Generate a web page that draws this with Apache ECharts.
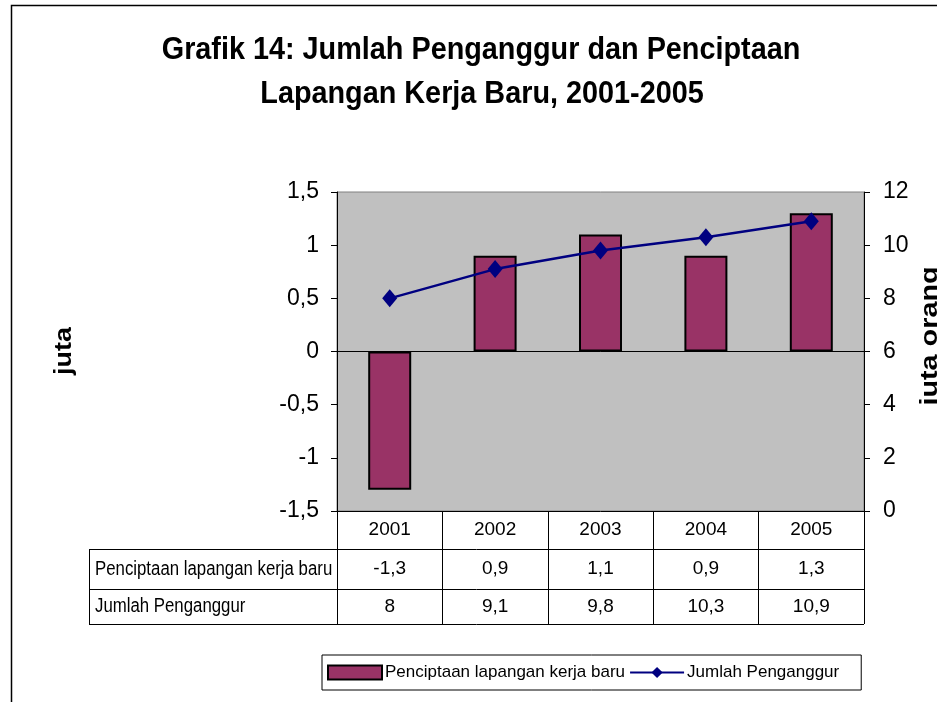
<!DOCTYPE html>
<html>
<head>
<meta charset="utf-8">
<script src="https://cdn.jsdelivr.net/npm/echarts@6/dist/echarts.min.js"></script>
<style>html,body{margin:0;padding:0;background:#fff}#c{width:937px;height:702px}</style>
</head>
<body>
<div id="c"></div>
<script>
var years = ['2001', '2002', '2003', '2004', '2005'];
var jobCreation = [-1.3, 0.9, 1.1, 0.9, 1.3];
var unemployed = [8, 9.1, 9.8, 10.3, 10.9];
var jobName = 'Penciptaan lapangan kerja baru';
var unempName = 'Jumlah Penganggur';
var titleLines = ['Grafik 14: Jumlah Penganggur dan Penciptaan', 'Lapangan Kerja Baru, 2001-2005'];
var leftAxisName = 'juta';
var rightAxisName = 'juta orang';

function fmt(v) { return String(v).replace('.', ','); }

var SANS = "'Liberation Sans', Arial, sans-serif";

var chart = echarts.init(document.getElementById('c'));
var TL = 89, PL = 337, PR = 864, PB = 511, R1 = 549, R2 = 589, TB = 624;

chart.setOption({
  animation: false,
  backgroundColor: '#fff',
  grid: { left: PL, right: 937 - PR, top: 192, bottom: 702 - PB, show: true, backgroundColor: '#C0C0C0', borderColor: '#808080', borderWidth: 1 },
  legend: {
    left: 322, top: 655, orient: 'horizontal',
    borderColor: '#000', borderWidth: 1, padding: [9, 22, 9, 5],
    itemWidth: 54, itemHeight: 14, itemGap: 4,
    textStyle: { fontFamily: SANS, fontSize: 17, color: '#000', padding: [0, 0, 0, -2] },
    data: [{ name: jobName, icon: 'rect' }, { name: unempName }]
  },
  xAxis: {
    type: 'category', data: years, position: 'bottom',
    axisLine: { onZero: false, lineStyle: { color: '#000', width: 1 } },
    axisTick: { show: true, length: TB - PB, lineStyle: { color: '#000', width: 1 } },
    axisLabel: {
      margin: 0, interval: 0,
      formatter: function (v, i) {
        return '{y|' + v + '}\n{a|' + fmt(jobCreation[i]) + '}\n{b|' + fmt(unemployed[i]) + '}';
      },
      rich: {
        y: { fontFamily: SANS, fontSize: 19, color: '#000', lineHeight: R1 - PB },
        a: { fontFamily: SANS, fontSize: 19, color: '#000', lineHeight: R2 - R1 },
        b: { fontFamily: SANS, fontSize: 19, color: '#000', lineHeight: TB - R2 }
      }
    },
    splitLine: { show: false }
  },
  yAxis: [
    {
      type: 'value', min: -1.5, max: 1.5, interval: 0.5,
      axisLine: { show: true, lineStyle: { color: '#000' } },
      axisTick: { show: true, length: 6, lineStyle: { color: '#000' } },
      axisLabel: { margin: 18, fontFamily: SANS, fontSize: 23, color: '#000', formatter: fmt },
      splitLine: { show: false }
    },
    {
      type: 'value', min: 0, max: 12, interval: 2, position: 'right',
      axisLine: { show: true, lineStyle: { color: '#000' } },
      axisTick: { show: true, length: 6, lineStyle: { color: '#000' } },
      axisLabel: { margin: 19, fontFamily: SANS, fontSize: 23, color: '#000', formatter: fmt },
      splitLine: { show: false }
    }
  ],
  series: [
    {
      name: jobName, type: 'bar', data: jobCreation, yAxisIndex: 0, barWidth: 43,
      itemStyle: { color: '#993366', borderColor: '#000', borderWidth: 2 },
      markLine: {
        silent: true, symbol: 'none', label: { show: false },
        lineStyle: { color: '#000', width: 1, type: 'solid' },
        data: [{ yAxis: 0 }]
      }
    },
    {
      name: unempName, type: 'line', data: unemployed, yAxisIndex: 1,
      symbol: 'diamond', symbolSize: [15, 18],
      lineStyle: { color: '#000080', width: 2.5 },
      itemStyle: { color: '#000080' }
    }
  ],
  graphic: [
    { type: 'rect', shape: { x: 11.5, y: 5.5, width: 2000, height: 2000 }, style: { fill: 'none', stroke: '#000', lineWidth: 1.5 }, silent: true },
    { type: 'text', x: 481, y: 50, scaleX: 0.9, style: { text: titleLines[0], fontFamily: SANS, fontWeight: 'bold', fontSize: 32, fill: '#000', align: 'center', verticalAlign: 'middle' } },
    { type: 'text', x: 482, y: 94, scaleX: 0.9, style: { text: titleLines[1], fontFamily: SANS, fontWeight: 'bold', fontSize: 32, fill: '#000', align: 'center', verticalAlign: 'middle' } },
    { type: 'text', x: 64, y: 351, rotation: Math.PI / 2, scaleX: 1.12, style: { text: leftAxisName, fontFamily: SANS, fontWeight: 'bold', fontSize: 24, fill: '#000', align: 'center', verticalAlign: 'middle' } },
    { type: 'text', x: 930, y: 336, rotation: Math.PI / 2, scaleX: 1.2, style: { text: rightAxisName, fontFamily: SANS, fontWeight: 'bold', fontSize: 24, fill: '#000', align: 'center', verticalAlign: 'middle' } },
    { type: 'line', shape: { x1: TL, y1: R1 + 0.5, x2: PR, y2: R1 + 0.5 }, style: { stroke: '#000', lineWidth: 1 } },
    { type: 'line', shape: { x1: TL, y1: R2 + 0.5, x2: PR, y2: R2 + 0.5 }, style: { stroke: '#000', lineWidth: 1 } },
    { type: 'line', shape: { x1: TL, y1: TB + 0.5, x2: PR, y2: TB + 0.5 }, style: { stroke: '#000', lineWidth: 1 } },
    { type: 'line', shape: { x1: TL + 0.5, y1: R1, x2: TL + 0.5, y2: TB }, style: { stroke: '#000', lineWidth: 1 } },
    { type: 'text', x: 95, y: (R1 + R2) / 2, scaleX: 0.84, style: { text: jobName, fontFamily: SANS, fontSize: 20, fill: '#000', align: 'left', verticalAlign: 'middle' } },
    { type: 'text', x: 95, y: (R2 + TB) / 2, scaleX: 0.84, style: { text: unempName, fontFamily: SANS, fontSize: 20, fill: '#000', align: 'left', verticalAlign: 'middle' } }
  ]
});
</script>
</body>
</html>
